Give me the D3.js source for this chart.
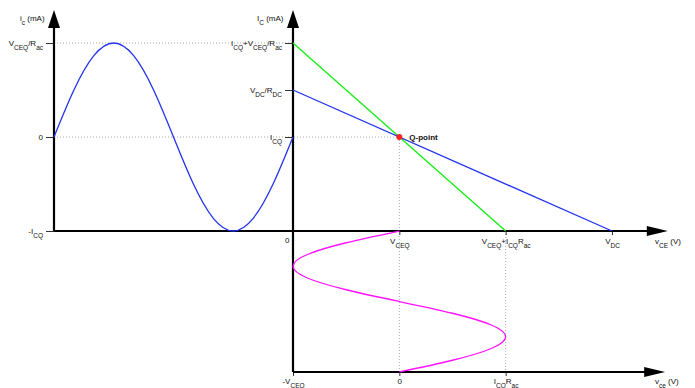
<!DOCTYPE html>
<html>
<head>
<meta charset="utf-8">
<script src="https://cdn.jsdelivr.net/npm/d3@7"></script>
<style>
  body { margin: 0; background: #fff; }
  text { font-family: "Liberation Sans", Arial, sans-serif; font-size: 8px; fill: #111; }
</style>
</head>
<body>
<script>
// operating point and load lines (V, mA)
var VCEQ = 4, ICQ = 2, VDC = 12;
var dcLine = [[0, 3], [12, 0]];   // V_DC/R_DC -> V_DC
var acLine = [[0, 4], [8, 0]];    // I_CQ+V_CEQ/R_ac -> V_CEQ+I_CQ*R_ac

// sampled ac signals (phase in degrees)
var phase = [0, 30, 60, 90, 120, 150, 180, 210, 240, 270, 300, 330, 360];
var icValues = [0, 1, 1.73, 2, 1.73, 1, 0, -1, -1.73, -2, -1.73, -1, 0];
var vceValues = [0, -2, -3.46, -4, -3.46, -2, 0, 2, 3.46, 4, 3.46, 2, 0];

// tick labels
var iTicks = [2, 3, 4];
var iLabels = ["I_{CQ}", "V_{DC}/R_{DC}", "I_{CQ}+V_{CEQ}/R_{ac}"];
var vTicks = [4, 8, 12];
var vLabels = ["V_{CEQ}", "V_{CEQ}+I_{CQ}R_{ac}", "V_{DC}"];
var icTicks = [-2, 0, 2];
var icLabels = ["-I_{CQ}", "0", "V_{CEQ}/R_{ac}"];
var vceTicks = [-4, 0, 4];
var vceLabels = ["-V_{CEQ}", "0", "I_{CQ}R_{ac}"];

var svg = d3.select("body").append("svg").attr("width", 695).attr("height", 388);

var vScale = d3.scaleLinear().domain([0, 12]).range([293, 612]);
var iScale = d3.scaleLinear().domain([0, 4]).range([231, 43]);
var tLeft = d3.scaleLinear().domain([0, 360]).range([54, 293]);
var icScale = d3.scaleLinear().domain([-2, 2]).range([231, 43]);
var tDown = d3.scaleLinear().domain([0, 360]).range([231, 372]);
var vceScale = d3.scaleLinear().domain([-4, 8]).range([293, 612]);

function rich(sel, str) {
  str.split(/(_\{[^}]*\})/).forEach(function(p) {
    if (!p) return;
    if (p.indexOf("_{") == 0)
      sel.append("tspan").attr("baseline-shift", "sub").style("font-size", "6.5px").text(p.slice(2, -1));
    else
      sel.append("tspan").text(p);
  });
}

function labelAxis(g, ticks, labels) {
  g.select(".domain").remove();
  g.selectAll(".tick line").attr("stroke", "#333");
  g.selectAll(".tick text").text("").each(function(d) {
    rich(d3.select(this), labels[ticks.indexOf(d)]);
  });
  g.attr("font-size", null).attr("font-family", null);
}

// dotted guide lines
var guides = [
  [tLeft(0), icScale(2), tLeft(360), icScale(2)],
  [tLeft(0), iScale(ICQ), vScale(VCEQ), iScale(ICQ)],
  [vScale(VCEQ), iScale(ICQ), vScale(VCEQ), tDown(360)],
  [vceScale(4), tDown(0), vceScale(4), tDown(360)]
];
svg.selectAll("line.guide")
  .data(guides)
  .enter().append("line")
  .attr("class", "guide")
  .attr("x1", function(d) { return d[0]; })
  .attr("y1", function(d) { return d[1]; })
  .attr("x2", function(d) { return d[2]; })
  .attr("y2", function(d) { return d[3]; })
  .attr("stroke", "#aaa")
  .attr("stroke-dasharray", "1,2");

// axes ticks + labels
svg.append("g").attr("transform", "translate(" + tLeft(0) + ",0)")
  .call(d3.axisLeft(icScale).tickValues(icTicks).tickSize(8).tickPadding(3))
  .call(function(g) { labelAxis(g, icTicks, icLabels); });
svg.append("g").attr("transform", "translate(" + vScale(0) + ",0)")
  .call(d3.axisLeft(iScale).tickValues(iTicks).tickSize(8).tickPadding(3))
  .call(function(g) { labelAxis(g, iTicks, iLabels); });
svg.append("g").attr("transform", "translate(0," + iScale(0) + ")")
  .call(d3.axisBottom(vScale).tickValues(vTicks).tickSize(4).tickPadding(3))
  .call(function(g) { labelAxis(g, vTicks, vLabels); });
svg.append("g").attr("transform", "translate(0," + tDown(360) + ")")
  .call(d3.axisBottom(vceScale).tickValues(vceTicks).tickSize(4).tickPadding(2))
  .call(function(g) { labelAxis(g, vceTicks, vceLabels); });

// main axis lines
var axisLines = [
  [tLeft(0), icScale(2.55), tLeft(0), icScale(-2)],
  [tLeft(0), icScale(-2), vScale(0), iScale(0)],
  [vScale(0), iScale(4.55), vScale(0), tDown(360)],
  [vScale(0), iScale(0), vScale(13.4), iScale(0)],
  [vScale(0), tDown(360), vScale(13.4), tDown(360)]
];
svg.selectAll("line.axis")
  .data(axisLines)
  .enter().append("line")
  .attr("class", "axis")
  .attr("x1", function(d) { return d[0]; })
  .attr("y1", function(d) { return d[1]; })
  .attr("x2", function(d) { return d[2]; })
  .attr("y2", function(d) { return d[3]; })
  .attr("stroke", "#000")
  .attr("stroke-width", 2.2);

// arrow heads
var upArrows = [[tLeft(0), icScale(2.7)], [vScale(0), iScale(4.7)]];
svg.selectAll("path.up")
  .data(upArrows)
  .enter().append("path")
  .attr("class", "up")
  .attr("d", function(d) { return "M" + d[0] + "," + d[1] + "L" + (d[0] - 6) + "," + (d[1] + 18) + "L" + (d[0] + 6) + "," + (d[1] + 18) + "Z"; });
var rightArrows = [[vScale(14.1), iScale(0)], [vScale(14), tDown(360)]];
svg.selectAll("path.right")
  .data(rightArrows)
  .enter().append("path")
  .attr("class", "right")
  .attr("d", function(d) { return "M" + d[0] + "," + d[1] + "L" + (d[0] - 21) + "," + (d[1] - 5) + "L" + (d[0] - 21) + "," + (d[1] + 5) + "Z"; });

// load lines
var line = d3.line().x(function(d) { return vScale(d[0]); }).y(function(d) { return iScale(d[1]); });
svg.append("path").attr("d", line(acLine)).attr("fill", "none").attr("stroke", "#11ee11").attr("stroke-width", 1.3);
svg.append("path").attr("d", line(dcLine)).attr("fill", "none").attr("stroke", "#2233ee").attr("stroke-width", 1.3);

// ic(t) on the left
var icLine = d3.line().curve(d3.curveNatural)
  .x(function(d, i) { return tLeft(phase[i]); })
  .y(function(d) { return icScale(d); });
svg.append("path").attr("d", icLine(icValues)).attr("fill", "none").attr("stroke", "#2233ee").attr("stroke-width", 1.3);

// vce(t) below
var vceLine = d3.line().curve(d3.curveNatural)
  .x(function(d) { return vceScale(d); })
  .y(function(d, i) { return tDown(phase[i]); });
svg.append("path").attr("d", vceLine(vceValues)).attr("fill", "none").attr("stroke", "#ff11ff").attr("stroke-width", 1.3);

// Q-point
svg.append("circle").attr("cx", vScale(VCEQ)).attr("cy", iScale(ICQ)).attr("r", 3).attr("fill", "#ff2222");
svg.append("text").attr("x", vScale(VCEQ) + 10).attr("y", iScale(ICQ) + 3).style("font-weight", "bold").text("Q-point");

// axis titles
var titles = [
  [20, 21, "i_{c} (mA)"],
  [257, 21, "I_{C} (mA)"],
  [655, 244, "v_{CE} (V)"],
  [655, 384, "v_{ce} (V)"],
  [285, 243, "0"]
];
titles.forEach(function(t) {
  rich(svg.append("text").attr("x", t[0]).attr("y", t[1]), t[2]);
});
</script>
</body>
</html>
